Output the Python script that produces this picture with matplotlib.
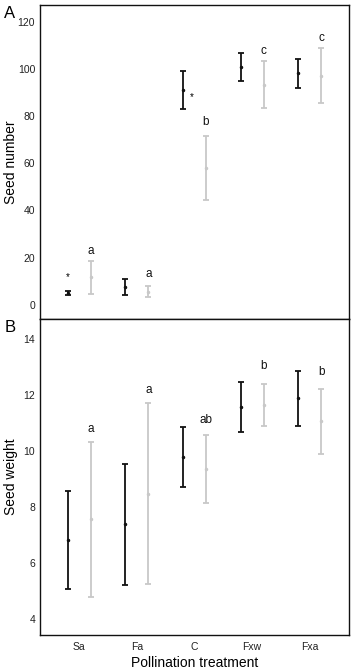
import matplotlib
matplotlib.use("Agg")
import matplotlib.pyplot as plt
import numpy as np

plt.rcParams["font.family"] = ["Liberation Sans", "DejaVu Sans"]

categories = ["Sa", "Fa", "C", "Fxw", "Fxa"]

# Panel A: seed number (mean, lower, upper)
num_black_mean = [4.9, 7.5, 90.9, 100.8, 98.3]
num_black_lo = [4.0, 4.1, 82.9, 95.0, 91.9]
num_black_hi = [5.9, 10.9, 99.0, 106.6, 104.3]
num_gray_mean = [11.7, 5.6, 57.9, 93.3, 97.0]
num_gray_lo = [4.7, 3.4, 44.3, 83.3, 85.4]
num_gray_hi = [18.4, 7.8, 71.4, 103.2, 108.7]
num_letters = ["a", "a", "b", "c", "c"]
num_letter_y = [23.0, 13.1, 77.5, 107.7, 113.2]

# Panel B: seed weight
wt_black_mean = [6.82, 7.39, 9.79, 11.56, 11.89]
wt_black_lo = [5.07, 5.21, 8.73, 10.68, 10.90]
wt_black_hi = [8.56, 9.55, 10.84, 12.46, 12.85]
wt_gray_mean = [7.56, 8.47, 9.37, 11.65, 11.07]
wt_gray_lo = [4.78, 5.25, 8.16, 10.90, 9.90]
wt_gray_hi = [10.32, 11.70, 10.57, 12.40, 12.22]
wt_letters = ["a", "a", "ab", "b", "b"]
wt_letter_y = [10.77, 12.16, 11.09, 13.04, 12.80]

W, H = 355, 669
fig = plt.figure(figsize=(W / 100, H / 100), dpi=100)
L, R = 40 / W, 349 / W
axA = fig.add_axes([L, 1 - 319 / H, R - L, (319 - 5) / H])
axB = fig.add_axes([L, 1 - 635 / H, R - L, (635 - 319) / H])

x = np.arange(len(categories))
off = 0.2
BLACK = "#111111"
GRAY = "#c8c8c8"


def draw(ax, bm, blo, bhi, gm, glo, ghi, letters, ly):
    bm, blo, bhi = map(np.array, (bm, blo, bhi))
    gm, glo, ghi = map(np.array, (gm, glo, ghi))
    ax.errorbar(x - off, bm, yerr=[bm - blo, bhi - bm], fmt="o", ms=1.5,
                color=BLACK, ecolor=BLACK, elinewidth=1.3, capsize=2.0, capthick=1.3)
    ax.errorbar(x + off, gm, yerr=[gm - glo, ghi - gm], fmt="o", ms=1.5,
                color=GRAY, ecolor=GRAY, elinewidth=1.3, capsize=2.0, capthick=1.3)
    for xi, t, yi in zip(x, letters, ly):
        ax.text(xi + off, yi, t, ha="center", va="center", fontsize=8.5, color="#111111")
    ax.set_xlim(-0.68, 4.68)
    ax.tick_params(axis="both", length=0, labelsize=7.5, pad=3.5, colors="#222222")
    for s in ax.spines.values():
        s.set_linewidth(1.0)
        s.set_color("#111111")


draw(axA, num_black_mean, num_black_lo, num_black_hi, num_gray_mean, num_gray_lo,
     num_gray_hi, num_letters, num_letter_y)
axA.set_ylim(-6, 127)
axA.set_yticks([0, 20, 40, 60, 80, 100, 120])
axA.set_xticks([])
axA.set_ylabel("Seed number", fontsize=10)
axA.yaxis.set_label_coords(-0.071, 0.5)
axA.text(-0.2, 11.7, "*", ha="center", va="center", fontsize=7)
axA.text(1.95, 88.2, "*", ha="center", va="center", fontsize=7)

draw(axB, wt_black_mean, wt_black_lo, wt_black_hi, wt_gray_mean, wt_gray_lo,
     wt_gray_hi, wt_letters, wt_letter_y)
axB.set_ylim(3.44, 14.7)
axB.set_yticks([4, 6, 8, 10, 12, 14])
axB.set_xticks(x)
axB.set_xticklabels(categories)
axB.tick_params(axis="x", pad=5)
axB.set_ylabel("Seed weight", fontsize=10)
axB.yaxis.set_label_coords(-0.071, 0.5)
axB.set_xlabel("Pollination treatment", fontsize=10, labelpad=3)

fig.text(10 / W, 1 - 14 / H, "A", fontsize=12, ha="center", va="center")
fig.text(10 / W, 1 - 327 / H, "B", fontsize=12, ha="center", va="center")

fig.savefig("out.png", dpi=100)
